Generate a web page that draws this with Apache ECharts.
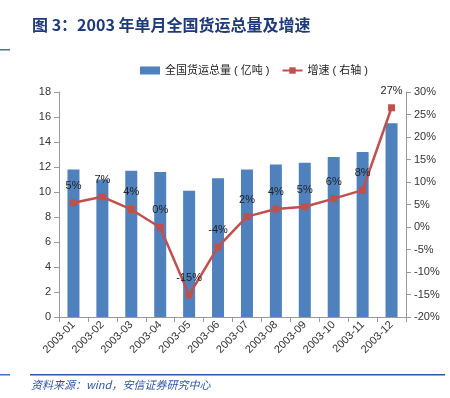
<!DOCTYPE html>
<html>
<head>
<meta charset="utf-8">
<script src="https://cdn.jsdelivr.net/npm/echarts@6/dist/echarts.min.js"></script>
<style>
  html, body { margin: 0; padding: 0; background: #fff; }
  #chart { width: 450px; height: 398px; }
</style>
</head>
<body>
<div id="chart"></div>
<script>
// months
var months = ["2003-01", "2003-02", "2003-03", "2003-04", "2003-05", "2003-06",
  "2003-07", "2003-08", "2003-09", "2003-10", "2003-11", "2003-12"];
// 全国货运总量 (亿吨)
var freight = [11.8, 11.0, 11.7, 11.6, 10.1, 11.1, 11.8, 12.2, 12.35, 12.8, 13.2, 15.5];
// 增速 (%)
var growth = [5.4, 6.7, 3.9, -0.1, -15.1, -4.4, 2.3, 4.0, 4.5, 6.3, 8.2, 26.5];

var textFont = "Liberation Sans, Noto Sans CJK SC, sans-serif";
var chart = echarts.init(document.getElementById("chart"));

chart.setOption({
  animation: false,
  textStyle: { fontFamily: textFont },
  graphic: [
    {
      type: "text", left: 32, top: 17,
      style: {
        text: "图 3：2003 年单月全国货运总量及增速",
        font: "bold 16px Noto Sans CJK SC, sans-serif",
        fill: "#1f3a78"
      }
    },
    { type: "rect", shape: { x: 0, y: 49, width: 10, height: 1.5 }, style: { fill: "#4a6fae" } },
    { type: "rect", shape: { x: 30, y: 374, width: 415, height: 1.5 }, style: { fill: "#2f55a4" } },
    { type: "rect", shape: { x: 0, y: 374, width: 10, height: 1.5 }, style: { fill: "#4a6fae" } },
    {
      type: "text", left: 31, top: 379,
      style: {
        text: "资料来源：wind，安信证券研究中心",
        font: "italic 11px Noto Sans CJK SC, sans-serif",
        fill: "#2f55a4"
      }
    }
  ],
  legend: {
    top: 60,
    left: 135,
    itemGap: 12,
    itemWidth: 20,
    itemHeight: 8,
    textStyle: { fontSize: 11, color: "#222" },
    data: [
      { name: "全国货运总量 ( 亿吨 )", icon: "rect", itemStyle: { color: "#4f81bd" } },
      { name: "增速 ( 右轴 )" }
    ]
  },
  grid: { left: 59, right: 44, top: 92, bottom: 81 },
  xAxis: {
    type: "category",
    data: months,
    axisLine: { lineStyle: { color: "#999" } },
    axisTick: { show: true, alignWithLabel: false, lineStyle: { color: "#999" } },
    axisLabel: { rotate: 45, fontSize: 11, color: "#333", interval: 0, margin: 6 }
  },
  yAxis: [
    {
      type: "value", min: 0, max: 18, interval: 2,
      splitLine: { show: false },
      axisLine: { show: true, lineStyle: { color: "#999" } },
      axisTick: { show: true, lineStyle: { color: "#999" } },
      axisLabel: { fontSize: 11, color: "#333" }
    },
    {
      type: "value", min: -20, max: 30, interval: 5,
      splitLine: { show: false },
      axisLine: { show: true, lineStyle: { color: "#999" } },
      axisTick: { show: true, lineStyle: { color: "#999" } },
      axisLabel: { fontSize: 11, color: "#333", formatter: "{value}%" }
    }
  ],
  series: [
    {
      name: "全国货运总量 ( 亿吨 )",
      type: "bar",
      data: freight,
      barWidth: 12,
      itemStyle: { color: "#4f81bd" }
    },
    {
      name: "增速 ( 右轴 )",
      type: "line",
      yAxisIndex: 1,
      data: growth,
      symbol: "rect",
      symbolSize: 7,
      lineStyle: { color: "#c0504d", width: 2.5 },
      itemStyle: { color: "#c0504d" },
      label: {
        show: true,
        position: "top",
        distance: 8,
        fontSize: 11,
        color: "#222",
        formatter: function (p) { return String(Math.round(p.value)) + "%"; }
      }
    }
  ]
});
</script>
</body>
</html>
